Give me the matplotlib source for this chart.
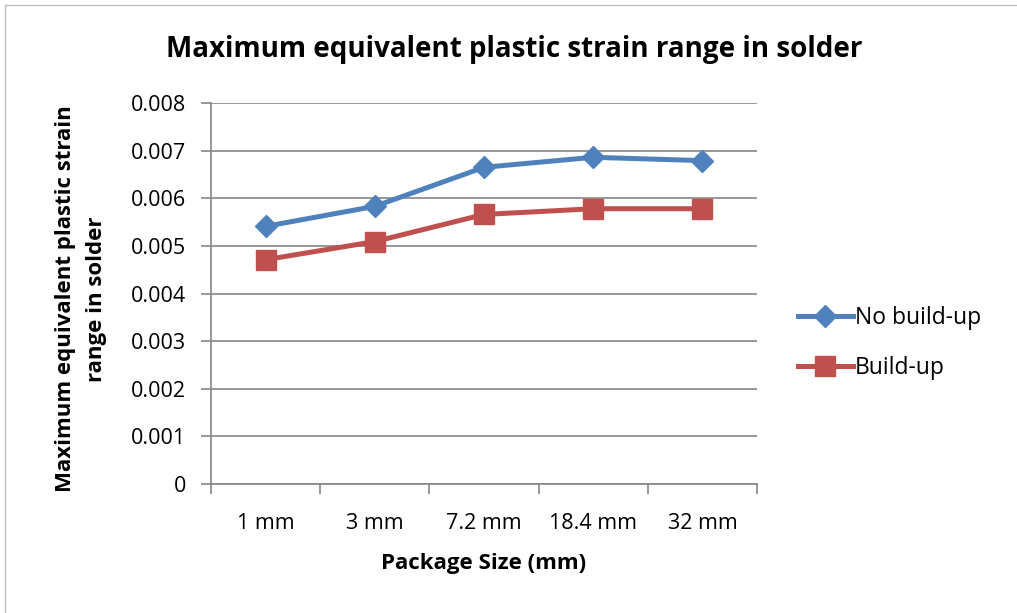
import matplotlib
matplotlib.use("Agg")
import matplotlib.pyplot as plt
from matplotlib.lines import Line2D

categories = ["1 mm", "3 mm", "7.2 mm", "18.4 mm", "32 mm"]
no_buildup = [0.00541, 0.00583, 0.00665, 0.00686, 0.00679]
buildup = [0.00471, 0.00509, 0.00566, 0.00578, 0.00578]
yticks = [0, 0.001, 0.002, 0.003, 0.004, 0.005, 0.006, 0.007, 0.008]
ytick_labels = ["0", "0.001", "0.002", "0.003", "0.004", "0.005", "0.006", "0.007", "0.008"]

plt.rcParams['font.family'] = ['Open Sans', 'DejaVu Sans']

W, H = 1017, 613
fig = plt.figure(figsize=(W / 100, H / 100), dpi=100)
ax = fig.add_axes([211 / W, 1 - 484 / H, (757 - 211) / W, (484 - 103) / H])

x = list(range(len(categories)))
ax.plot(x, no_buildup, color="#4F81BD", lw=3.6, marker="D", ms=11,
        label="No build-up", solid_capstyle="round", solid_joinstyle="round")
ax.plot(x, buildup, color="#C0504D", lw=3.6, marker="s", ms=14,
        label="Build-up", solid_capstyle="round", solid_joinstyle="round")

ax.set_xlim(-0.5, len(categories) - 0.5)
ax.set_ylim(0, 0.008)
ax.set_yticks(yticks)
ax.set_yticklabels(ytick_labels)
ax.set_xticks(x)
ax.set_xticklabels(categories)
ax.set_xticks([i - 0.5 for i in range(len(categories) + 1)], minor=True)
ax.tick_params(axis="x", which="major", length=0, pad=21, labelsize=15.5)
ax.tick_params(axis="x", which="minor", length=7, color="#868686", width=1.2)
ax.tick_params(axis="y", length=7, color="#868686", width=1.2, pad=11, labelsize=15.5)

ax.grid(axis="y", color="#868686", lw=1.2)
ax.set_axisbelow(True)
for s in ["top", "right"]:
    ax.spines[s].set_visible(False)
for s in ["left", "bottom"]:
    ax.spines[s].set_color("#868686")
    ax.spines[s].set_linewidth(1.2)

fig.text(514 / W, 1 - 50 / H, "Maximum equivalent plastic strain range in solder",
         ha="center", va="center", fontsize=20, fontweight="bold")
fig.text(484 / W, 1 - 563 / H, "Package Size (mm)", ha="center", va="center",
         fontsize=16, fontweight="bold")
fig.text(81 / W, 1 - 299 / H, "Maximum equivalent plastic strain\nrange in solder",
         ha="center", va="center", rotation=90, fontsize=16, fontweight="bold",
         linespacing=1.65)

handles = [Line2D([], [], color="#4F81BD", lw=3.6, marker="D", ms=11),
           Line2D([], [], color="#C0504D", lw=3.6, marker="s", ms=14)]
fig.legend(handles, ["No build-up", "Build-up"], loc="center left",
           bbox_to_anchor=(777 / W, 1 - 343 / H), frameon=False, fontsize=16.5,
           handlelength=2.4, handletextpad=0.1, labelspacing=1.1)

fig.add_artist(Line2D([5 / W, 5 / W], [0, 1 - 5 / H], transform=fig.transFigure,
                      color="#BFBFBF", lw=1))
fig.add_artist(Line2D([5 / W, 1], [1 - 5 / H, 1 - 5 / H], transform=fig.transFigure,
                      color="#BFBFBF", lw=1))

fig.savefig("out.png", dpi=100)
